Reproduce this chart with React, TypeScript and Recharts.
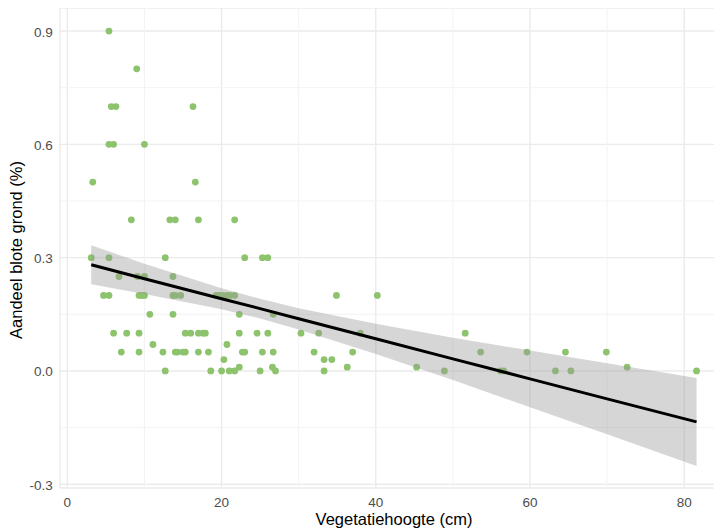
import {
  ComposedChart, Scatter, Line, Area,
  XAxis, YAxis, CartesianGrid, ReferenceLine,
} from "recharts";

// Vegetation height (cm) and bare ground share
const vegHeight = [
  5.4,
  9.0,
  5.7, 6.3, 16.3,
  5.4, 6.0, 10.0,
  3.3, 16.6,
  8.3, 13.3, 14.0, 17.0, 21.7,
  3.1, 5.4, 12.7, 23.0, 25.3, 26.0,
  6.7, 9.1, 10.0, 13.7,
  4.7, 5.4, 9.3, 9.7, 10.0, 13.7, 14.0, 14.7, 19.3, 19.7, 20.1, 20.7, 21.1, 21.7, 34.9, 40.2,
  10.7, 13.7, 22.3, 26.7,
  6.0, 7.7, 9.3, 15.3, 16.0, 17.0, 17.6, 17.9, 22.3, 24.6, 26.0, 30.3, 32.6, 38.0, 51.6,
  11.1, 20.7,
  7.0, 9.3, 12.4, 14.0, 14.3, 15.0, 15.3, 17.0, 18.3, 22.7, 23.0, 25.3, 26.7, 32.0, 37.0, 53.6, 59.6, 64.6, 69.9,
  20.3, 33.3, 34.3,
  22.3, 26.6, 36.3, 45.3, 72.6,
  12.7, 18.6, 20.0, 21.0, 21.7, 25.0, 27.0, 33.3, 48.9, 56.2, 56.6, 63.3, 65.3, 81.6,
];
const bareGround = [
  0.9,
  0.8,
  0.7, 0.7, 0.7,
  0.6, 0.6, 0.6,
  0.5, 0.5,
  0.4, 0.4, 0.4, 0.4, 0.4,
  0.3, 0.3, 0.3, 0.3, 0.3, 0.3,
  0.25, 0.25, 0.25, 0.25,
  0.2, 0.2, 0.2, 0.2, 0.2, 0.2, 0.2, 0.2, 0.2, 0.2, 0.2, 0.2, 0.2, 0.2, 0.2, 0.2,
  0.15, 0.15, 0.15, 0.15,
  0.1, 0.1, 0.1, 0.1, 0.1, 0.1, 0.1, 0.1, 0.1, 0.1, 0.1, 0.1, 0.1, 0.1, 0.1,
  0.07, 0.07,
  0.05, 0.05, 0.05, 0.05, 0.05, 0.05, 0.05, 0.05, 0.05, 0.05, 0.05, 0.05, 0.05, 0.05, 0.05, 0.05, 0.05, 0.05, 0.05,
  0.03, 0.03, 0.03,
  0.01, 0.01, 0.01, 0.01, 0.01,
  0, 0, 0, 0, 0, 0, 0, 0, 0, 0, 0, 0, 0, 0,
];

// linear fit + confidence band
const fitX = [3.1, 10, 20, 25, 30, 40, 50, 60, 70, 81.6];
const fitY = [0.281, 0.244, 0.191, 0.165, 0.138, 0.085, 0.032, -0.021, -0.074, -0.135];
const bandLow = [0.2295, 0.204, 0.163, 0.139, 0.110, 0.045, -0.024, -0.096, -0.168, -0.2515];
const bandHigh = [0.3325, 0.284, 0.219, 0.191, 0.166, 0.125, 0.088, 0.054, 0.020, -0.0185];

const xTicks = [0, 20, 40, 60, 80];
const xMinor = [10, 30, 50, 70];
const yTicks = [-0.3, 0, 0.3, 0.6, 0.9];
const yMinor = [-0.15, 0.15, 0.45, 0.75];

const points = vegHeight.map((x, i) => ({ x, y: bareGround[i] }));
const fitData = fitX.map((x, i) => ({ x, fit: fitY[i], band: [bandLow[i], bandHigh[i]] }));

const FONT = "'Liberation Sans', Arial, sans-serif";

function XTick({ x, y, payload }: any) {
  return (
    <text x={x} y={y + 18.7} textAnchor="middle" fontSize={13.5} fill="#4d4d4d" fontFamily={FONT}>
      {payload.value}
    </text>
  );
}

function YTick({ x, y, payload }: any) {
  return (
    <text x={x - 7.3} y={y + 5.5} textAnchor="end" fontSize={13.5} fill="#4d4d4d" fontFamily={FONT}>
      {payload.value.toFixed(1)}
    </text>
  );
}

export default function App() {
  return (
    <div style={{ width: 714, height: 524 }}>
      <ComposedChart width={714} height={524} data={fitData} margin={{ top: 0, right: 0, bottom: 0, left: 0 }}>
        <CartesianGrid stroke="#ebebeb" strokeWidth={1.4} />
        {xMinor.map((v) => (
          <ReferenceLine key={"vx" + v} x={v} stroke="#f3f3f3" strokeWidth={1} zIndex={-90} />
        ))}
        {yMinor.map((v) => (
          <ReferenceLine key={"hy" + v} y={v} stroke="#f3f3f3" strokeWidth={1} zIndex={-90} />
        ))}
        <XAxis
          type="number" dataKey="x" domain={[-0.95, 84.9]} allowDataOverflow
          ticks={xTicks} axisLine={false} tickLine={false} tickSize={0} tickMargin={0}
          height={44} tick={<XTick />}
          label={({ viewBox }: any) => (
            <text x={viewBox.x + viewBox.width / 2 + 3} y={517} textAnchor="middle" fontSize={16.5} fill="#000" fontFamily={FONT}>
              Vegetatiehoogte (cm)
            </text>
          )}
        />
        <YAxis
          type="number" domain={[-0.31, 0.961]} allowDataOverflow
          ticks={yTicks} axisLine={false} tickLine={false} tickSize={0} tickMargin={0}
          width={52} tick={<YTick />}
          label={() => (
            <text x={14} y={242} transform="rotate(-90 14 242)" textAnchor="middle" fontSize={16.5} fill="#000" fontFamily={FONT}>
              Aandeel blote grond (%)
            </text>
          )}
        />
        <Scatter
          data={points} dataKey="y" isAnimationActive={false} zIndex={50}
          shape={(p: any) => <circle cx={p.cx} cy={p.cy} r={3.4} fill="#8cc36c" />}
        />
        <Area
          type="linear" dataKey="band" fill="#999999" fillOpacity={0.4} stroke="none"
          isAnimationActive={false} zIndex={100}
        />
        <Line
          type="linear" dataKey="fit" stroke="#000" strokeWidth={3} dot={false}
          activeDot={false} isAnimationActive={false} zIndex={400}
        />
      </ComposedChart>
    </div>
  );
}
